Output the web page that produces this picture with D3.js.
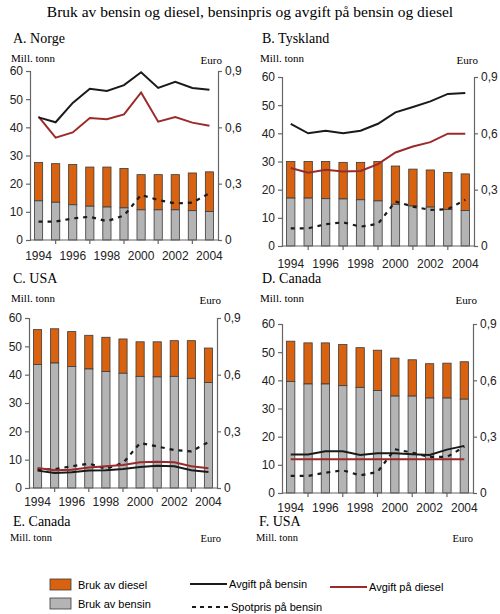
<!DOCTYPE html>
<html>
<head>
<meta charset="utf-8">
<script src="https://cdn.jsdelivr.net/npm/d3@7"></script>
<style>
body { margin: 0; background: #fff; }
svg { display: block; }
</style>
</head>
<body>
<script>
// Bruk av bensin og diesel, bensinpris og avgift paa bensin og diesel

var years = [1994, 1995, 1996, 1997, 1998, 1999, 2000, 2001, 2002, 2003, 2004];
var yearLabels = [1994, 1996, 1998, 2000, 2002, 2004];
var leftTicks = [0, 10, 20, 30, 40, 50, 60];
var rightTicks = [0, 0.3, 0.6, 0.9];

// mill. tonn, bensin (grey) and total bensin + diesel (bar top)
var norgeBensin = [13.9, 13.4, 12.5, 12.0, 11.7, 11.4, 10.7, 10.7, 10.7, 10.4, 10.1];
var norgeTotal = [27.5, 27.1, 26.8, 25.9, 25.9, 25.4, 23.2, 23.2, 23.2, 23.8, 24.2];
var tysklandBensin = [17.0, 17.0, 16.8, 16.7, 16.4, 16.0, 14.8, 14.2, 13.8, 13.0, 12.6];
var tysklandTotal = [30.0, 30.0, 30.0, 29.7, 29.7, 30.0, 28.4, 27.3, 27.0, 26.1, 25.6];
var usaBensin = [43.6, 44.1, 42.9, 42.0, 41.1, 40.5, 39.4, 39.2, 39.4, 38.7, 37.2];
var usaTotal = [55.9, 56.2, 55.2, 53.9, 53.2, 52.6, 51.6, 51.6, 52.0, 52.0, 49.4];
var canadaBensin = [39.6, 38.7, 38.7, 38.1, 37.5, 36.4, 34.4, 34.4, 33.7, 33.7, 33.3];
var canadaTotal = [53.9, 53.3, 53.3, 52.7, 51.6, 50.7, 47.9, 47.3, 45.9, 46.1, 46.6];

// euro per liter
var norgeAvgiftBensin = [0.653, 0.627, 0.730, 0.805, 0.794, 0.825, 0.893, 0.810, 0.843, 0.810, 0.800];
var norgeAvgiftDiesel = [0.657, 0.545, 0.573, 0.650, 0.643, 0.669, 0.786, 0.630, 0.655, 0.625, 0.609];
var norgeSpot = [0.098, 0.098, 0.115, 0.124, 0.100, 0.130, 0.240, 0.213, 0.195, 0.199, 0.249];
var tysklandAvgiftBensin = [0.650, 0.600, 0.614, 0.600, 0.614, 0.651, 0.712, 0.740, 0.770, 0.810, 0.815];
var tysklandAvgiftDiesel = [0.415, 0.390, 0.406, 0.397, 0.400, 0.436, 0.498, 0.530, 0.553, 0.598, 0.598];
var tysklandSpot = [0.094, 0.094, 0.116, 0.126, 0.103, 0.118, 0.237, 0.210, 0.192, 0.196, 0.246];
var usaAvgiftBensin = [0.092, 0.079, 0.083, 0.092, 0.094, 0.100, 0.111, 0.118, 0.115, 0.094, 0.085];
var usaAvgiftDiesel = [0.106, 0.094, 0.097, 0.108, 0.115, 0.122, 0.136, 0.139, 0.136, 0.115, 0.104];
var usaSpot = [0.097, 0.100, 0.115, 0.129, 0.102, 0.132, 0.238, 0.220, 0.201, 0.194, 0.243];
var canadaAvgiftBensin = [0.205, 0.205, 0.222, 0.222, 0.203, 0.212, 0.212, 0.207, 0.203, 0.231, 0.251];
var canadaAvgiftDiesel = [0.180, 0.180, 0.180, 0.180, 0.180, 0.180, 0.180, 0.180, 0.180, 0.180, 0.180];
var canadaSpot = [0.091, 0.091, 0.108, 0.121, 0.094, 0.112, 0.233, 0.215, 0.192, 0.192, 0.246];

var legendBars = [
	{name: "Bruk av diesel", color: "#d8620f"},
	{name: "Bruk av bensin", color: "#b4b4b4"}
];
var legendLines = [
	{name: "Avgift på bensin", color: "#1a1a1a", dash: null},
	{name: "Spotpris på bensin", color: "#1a1a1a", dash: "4,4"},
	{name: "Avgift på diesel", color: "#9b2b2b", dash: null}
];

var W = 500, H = 614;
var serif = "'Liberation Serif', 'Times New Roman', serif";
var sans = "'Liberation Sans', Arial, sans-serif";
var orange = "#d8620f", grey = "#b4b4b4", barStroke = "#3a3a3a";
var black = "#1a1a1a", red = "#9b2b2b", axisCol = "#666";

var svg = d3.select("body").append("svg")
	.attr("width", W)
	.attr("height", H);

svg.append("text")
	.attr("x", 250).attr("y", 17)
	.attr("text-anchor", "middle")
	.style("font-family", serif)
	.style("font-size", "15.5px")
	.text("Bruk av bensin og diesel, bensinpris og avgift på bensin og diesel");

var panels = [
	{title: "A. Norge", tx: 13, ty: 43, left: 30, right: 218, top: 71, bottom: 240, labY: 260,
		bensin: norgeBensin, total: norgeTotal, ab: norgeAvgiftBensin, ad: norgeAvgiftDiesel, spot: norgeSpot},
	{title: "B. Tyskland", tx: 262, ty: 43, left: 282, right: 474, top: 77, bottom: 246, labY: 268,
		bensin: tysklandBensin, total: tysklandTotal, ab: tysklandAvgiftBensin, ad: tysklandAvgiftDiesel, spot: tysklandSpot},
	{title: "C. USA", tx: 13, ty: 283, left: 29, right: 217, top: 318, bottom: 488, labY: 506,
		bensin: usaBensin, total: usaTotal, ab: usaAvgiftBensin, ad: usaAvgiftDiesel, spot: usaSpot},
	{title: "D. Canada", tx: 262, ty: 283, left: 282, right: 473, top: 324, bottom: 493, labY: 512,
		bensin: canadaBensin, total: canadaTotal, ab: canadaAvgiftBensin, ad: canadaAvgiftDiesel, spot: canadaSpot}
];

panels.forEach(function(p)
{
	var g = svg.append("g");

	g.append("text")
		.attr("x", p.tx).attr("y", p.ty)
		.style("font-family", serif).style("font-size", "14px")
		.text(p.title);
	g.append("text")
		.attr("x", p.tx - 2).attr("y", p.ty + 19)
		.style("font-family", serif).style("font-size", "11px")
		.text("Mill. tonn");
	g.append("text")
		.attr("x", p.right + 4).attr("y", p.ty + 21)
		.attr("text-anchor", "end")
		.style("font-family", serif).style("font-size", "11px")
		.text("Euro");

	var x = d3.scaleBand()
		.domain(years)
		.range([p.left, p.right])
		.paddingInner(0.52)
		.paddingOuter(0.26);
	var yL = d3.scaleLinear().domain([0, 60]).range([p.bottom, p.top]);
	var yR = d3.scaleLinear().domain([0, 0.9]).range([p.bottom, p.top]);

	// bars
	var bars = g.append("g");
	bars.selectAll("rect.diesel")
		.data(years)
		.enter().append("rect")
		.attr("class", "diesel")
		.attr("x", function(d) { return x(d); })
		.attr("width", x.bandwidth())
		.attr("y", function(d, i) { return yL(p.total[i]); })
		.attr("height", function(d, i) { return yL(p.bensin[i]) - yL(p.total[i]); })
		.style("fill", orange)
		.style("stroke", barStroke)
		.style("stroke-width", 0.8);
	bars.selectAll("rect.bensin")
		.data(years)
		.enter().append("rect")
		.attr("class", "bensin")
		.attr("x", function(d) { return x(d); })
		.attr("width", x.bandwidth())
		.attr("y", function(d, i) { return yL(p.bensin[i]); })
		.attr("height", function(d, i) { return yL(0) - yL(p.bensin[i]); })
		.style("fill", grey)
		.style("stroke", barStroke)
		.style("stroke-width", 0.8);

	// lines
	var line = d3.line()
		.x(function(d, i) { return x(years[i]) + x.bandwidth() / 2; })
		.y(function(d) { return yR(d); });

	g.append("path").datum(p.spot)
		.attr("d", line)
		.style("fill", "none").style("stroke", black)
		.style("stroke-width", 2.2).style("stroke-dasharray", "4,5");
	g.append("path").datum(p.ad)
		.attr("d", line)
		.style("fill", "none").style("stroke", red)
		.style("stroke-width", 2);
	g.append("path").datum(p.ab)
		.attr("d", line)
		.style("fill", "none").style("stroke", black)
		.style("stroke-width", 2);

	// axes
	var leftAxis = d3.axisLeft(yL).tickValues(leftTicks).tickSize(4).tickPadding(3);
	var rightAxis = d3.axisRight(yR).tickValues(rightTicks).tickSize(4).tickPadding(3)
		.tickFormat(function(d) { return d === 0 ? "0" : d3.format(".1f")(d).replace(".", ","); });

	var la = g.append("g").attr("transform", "translate(" + p.left + ",0)").call(leftAxis);
	var ra = g.append("g").attr("transform", "translate(" + p.right + ",0)").call(rightAxis);
	[la, ra].forEach(function(a)
	{
		a.select(".domain").attr("stroke", axisCol).attr("stroke-width", 1.2);
		a.selectAll(".tick line").attr("stroke", axisCol).attr("stroke-width", 1.2);
		a.selectAll("text").style("font-family", sans).style("font-size", "12px").attr("fill", "#222");
	});

	// x axis
	g.append("line")
		.attr("x1", p.left).attr("x2", p.right)
		.attr("y1", p.bottom).attr("y2", p.bottom)
		.attr("stroke", axisCol).attr("stroke-width", 1.2);
	g.selectAll("line.xtick")
		.data(yearLabels.slice(1))
		.enter().append("line")
		.attr("class", "xtick")
		.attr("x1", function(d) { return x(d) - x.step() * x.paddingInner() / 2 - x.step() / 2; })
		.attr("x2", function(d) { return x(d) - x.step() * x.paddingInner() / 2 - x.step() / 2; })
		.attr("y1", p.bottom).attr("y2", p.bottom + 4)
		.attr("stroke", axisCol).attr("stroke-width", 1.2);
	g.selectAll("text.xlab")
		.data(yearLabels)
		.enter().append("text")
		.attr("class", "xlab")
		.attr("x", function(d) { return x(d) + x.bandwidth() / 2; })
		.attr("y", p.labY)
		.attr("text-anchor", "middle")
		.style("font-family", sans).style("font-size", "12px").attr("fill", "#222")
		.text(function(d) { return d; });
});

// empty panels E and F
var emptyPanels = [
	{title: "E. Canada", tx: 13, ty: 526, euroX: 221},
	{title: "F. USA", tx: 259, ty: 526, euroX: 473}
];
emptyPanels.forEach(function(p)
{
	svg.append("text")
		.attr("x", p.tx).attr("y", p.ty)
		.style("font-family", serif).style("font-size", "14px")
		.text(p.title);
	svg.append("text")
		.attr("x", p.tx - 3).attr("y", p.ty + 15)
		.style("font-family", serif).style("font-size", "10.5px")
		.text("Mill. tonn");
	svg.append("text")
		.attr("x", p.euroX).attr("y", p.ty + 16)
		.attr("text-anchor", "end")
		.style("font-family", serif).style("font-size", "10.5px")
		.text("Euro");
});

// legend
var lg = svg.append("g").attr("class", "legend");
lg.selectAll("rect")
	.data(legendBars)
	.enter().append("rect")
	.attr("x", 50)
	.attr("y", function(d, i) { return 579 + i * 19; })
	.attr("width", 21).attr("height", 11)
	.style("fill", function(d) { return d.color; })
	.style("stroke", barStroke).style("stroke-width", 0.8);
lg.selectAll("text.lb")
	.data(legendBars)
	.enter().append("text")
	.attr("class", "lb")
	.attr("x", 78)
	.attr("y", function(d, i) { return 589 + i * 19; })
	.style("font-family", sans).style("font-size", "11px")
	.text(function(d) { return d.name; });

var linePos = [{x: 190, y: 584}, {x: 192, y: 607}, {x: 330, y: 587}];
lg.selectAll("line.ll")
	.data(legendLines)
	.enter().append("line")
	.attr("class", "ll")
	.attr("x1", function(d, i) { return linePos[i].x; })
	.attr("x2", function(d, i) { return linePos[i].x + 37; })
	.attr("y1", function(d, i) { return linePos[i].y; })
	.attr("y2", function(d, i) { return linePos[i].y; })
	.style("stroke", function(d) { return d.color; })
	.style("stroke-width", 2)
	.style("stroke-dasharray", function(d) { return d.dash; });
lg.selectAll("text.ll")
	.data(legendLines)
	.enter().append("text")
	.attr("class", "ll")
	.attr("x", function(d, i) { return linePos[i].x + 39; })
	.attr("y", function(d, i) { return linePos[i].y + 4; })
	.style("font-family", sans).style("font-size", "11px")
	.text(function(d) { return d.name; });
</script>
</body>
</html>
